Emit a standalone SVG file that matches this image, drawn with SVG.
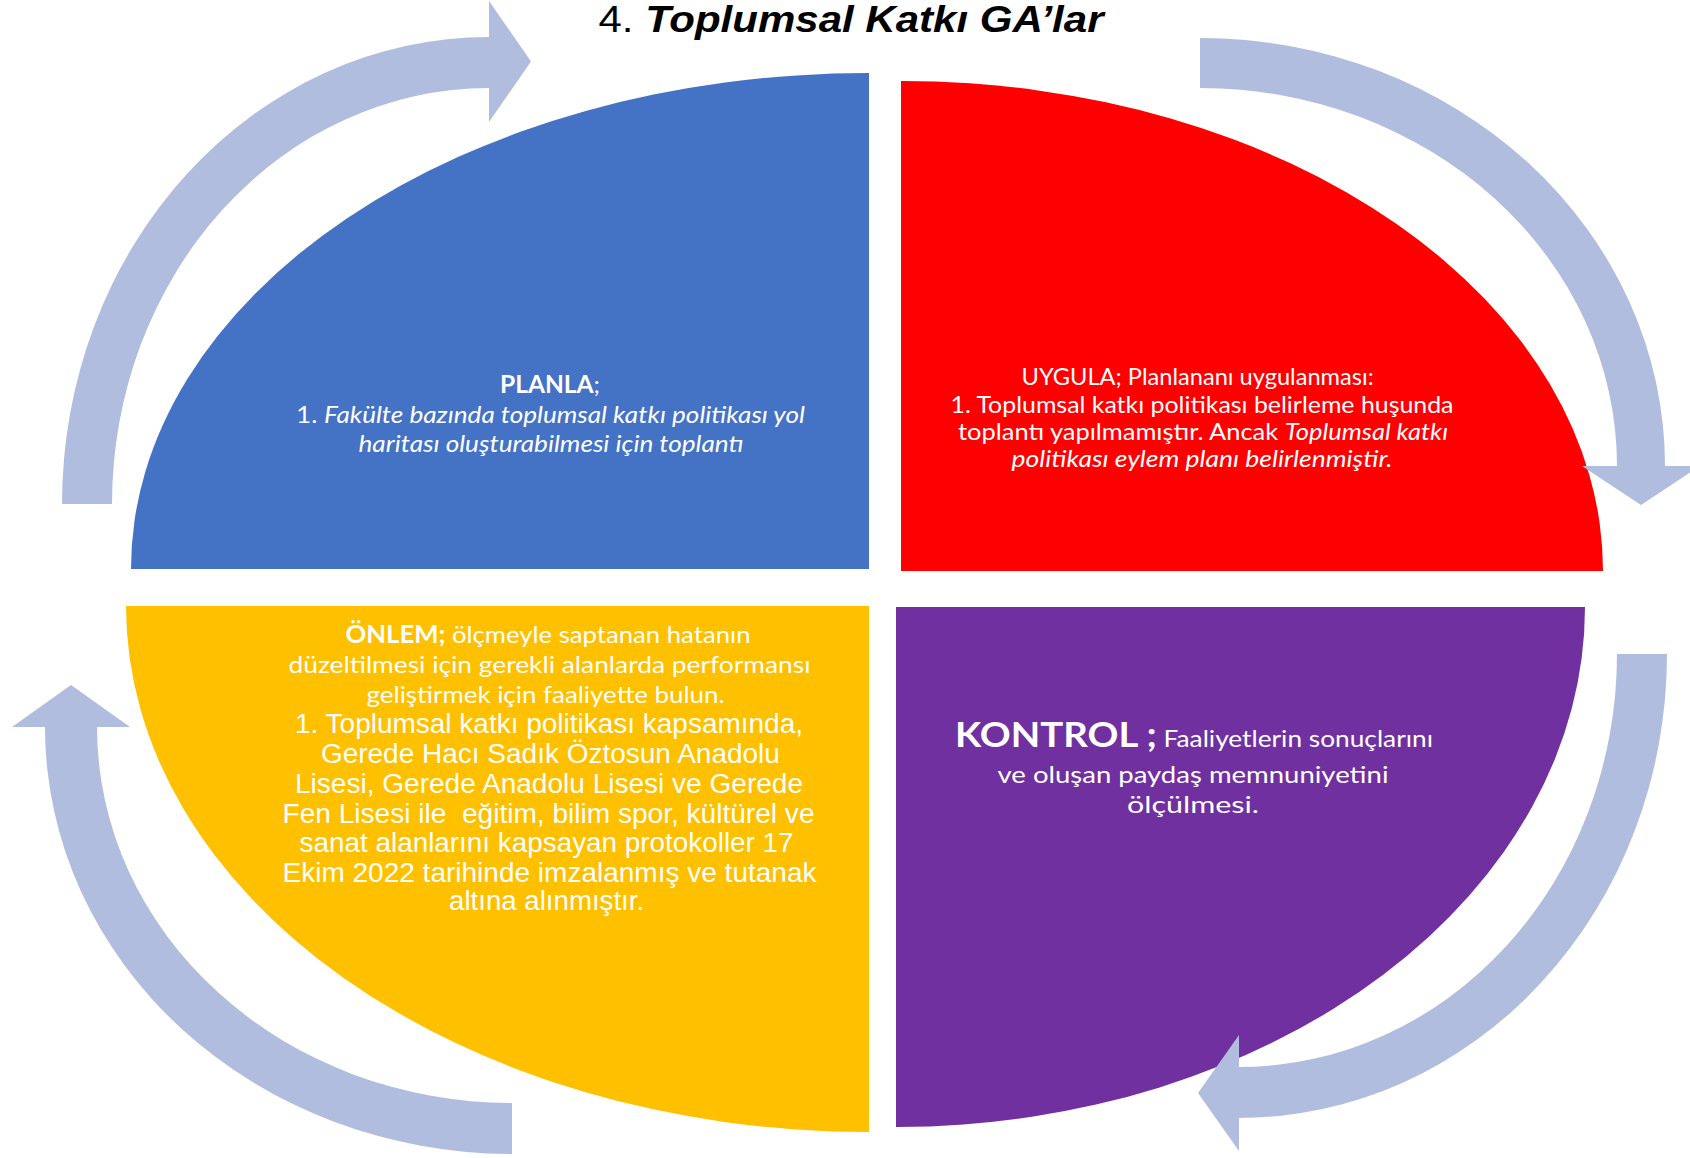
<svg xmlns="http://www.w3.org/2000/svg" width="1690" height="1158" viewBox="0 0 1690 1158">
<style>
.t{font-family:Lato,'Open Sans','Noto Sans',sans-serif;fill:#fff;font-size:24px}
.k{font-family:Lato,'Open Sans','Noto Sans',sans-serif;fill:#fff;font-size:24px}
.kb{font-size:35px;font-weight:bold}
.a{font-family:'Liberation Sans',Arial,sans-serif;fill:#fff;font-size:27px}
.b{font-weight:bold}
.i{font-style:italic}
.arrow{fill:#B0BDDE}
</style>
<rect width="1690" height="1158" fill="#fff"/>
<g id="title">
<text x="851" y="32" font-family="'Liberation Sans',Arial,sans-serif" font-size="37" fill="#000" text-anchor="middle" textLength="505" lengthAdjust="spacingAndGlyphs">4. <tspan font-weight="bold" font-style="italic">Toplumsal Katkı GA’lar</tspan></text>
</g>
<g id="planla">
<path d="M869,569 L131,569 A738,496 0 0 1 869,73 Z" fill="#4472C4"/>
<text class="t" x="550" y="393" text-anchor="middle" textLength="100" lengthAdjust="spacingAndGlyphs"><tspan class="b">PLANLA</tspan>;</text>
<text class="t" x="550.5" y="423" text-anchor="middle" textLength="509" lengthAdjust="spacingAndGlyphs">1. <tspan class="i">Fakülte bazında toplumsal katkı politikası yol</tspan></text>
<text class="t i" x="551" y="452" text-anchor="middle" textLength="385" lengthAdjust="spacingAndGlyphs">haritası oluşturabilmesi için toplantı</text>
</g>
<g id="uygula">
<path d="M901,571 L901,81 A702,490 0 0 1 1603,571 Z" fill="#FF0000"/>
<text class="t" x="1197.6" y="385" text-anchor="middle" textLength="352" lengthAdjust="spacingAndGlyphs">UYGULA; Planlananı uygulanması:</text>
<text class="t" x="1202" y="413" text-anchor="middle" textLength="503" lengthAdjust="spacingAndGlyphs">1. Toplumsal katkı politikası belirleme huşunda</text>
<text class="t" x="1203" y="440" text-anchor="middle" textLength="490" lengthAdjust="spacingAndGlyphs">toplantı yapılmamıştır. Ancak <tspan class="i">Toplumsal katkı</tspan></text>
<text class="t i" x="1202" y="467" text-anchor="middle" textLength="381" lengthAdjust="spacingAndGlyphs">politikası eylem planı belirlenmiştir.</text>
</g>
<g id="onlem">
<path d="M869,606 L869,1132 A743,526 0 0 1 126,606 Z" fill="#FFC000"/>
<text class="t" x="548" y="643" text-anchor="middle" textLength="405" lengthAdjust="spacingAndGlyphs"><tspan class="b">ÖNLEM;</tspan> ölçmeyle saptanan hatanın</text>
<text class="t" x="549.5" y="673" text-anchor="middle" textLength="522" lengthAdjust="spacingAndGlyphs">düzeltilmesi için gerekli alanlarda performansı</text>
<text class="t" x="545.6" y="703" text-anchor="middle" textLength="358" lengthAdjust="spacingAndGlyphs">geliştirmek için faaliyette bulun.</text>
<text class="a" x="549" y="733" text-anchor="middle" textLength="508" lengthAdjust="spacingAndGlyphs">1. Toplumsal katkı politikası kapsamında,</text>
<text class="a" x="550.4" y="763" text-anchor="middle" textLength="459" lengthAdjust="spacingAndGlyphs">Gerede Hacı Sadık Öztosun Anadolu</text>
<text class="a" x="549" y="793" text-anchor="middle" textLength="508" lengthAdjust="spacingAndGlyphs">Lisesi, Gerede Anadolu Lisesi ve Gerede</text>
<text class="a" x="548.5" y="823" text-anchor="middle" textLength="532" lengthAdjust="spacingAndGlyphs" style="white-space:pre">Fen Lisesi ile  eğitim, bilim spor, kültürel ve</text>
<text class="a" x="546.6" y="852" text-anchor="middle" textLength="494" lengthAdjust="spacingAndGlyphs">sanat alanlarını kapsayan protokoller 17</text>
<text class="a" x="549.5" y="882" text-anchor="middle" textLength="534" lengthAdjust="spacingAndGlyphs">Ekim 2022 tarihinde imzalanmış ve tutanak</text>
<text class="a" x="546.6" y="910" text-anchor="middle" textLength="195" lengthAdjust="spacingAndGlyphs">altına alınmıştır.</text>
</g>
<g id="kontrol">
<path d="M896,607 L1585,607 A689,520 0 0 1 896,1127 Z" fill="#7030A0"/>
<text class="k" x="955" y="747" textLength="478" lengthAdjust="spacingAndGlyphs"><tspan class="kb">KONTROL ;</tspan> Faaliyetlerin sonuçlarını</text>
<text class="k" x="1193" y="783" text-anchor="middle" textLength="391" lengthAdjust="spacingAndGlyphs">ve oluşan paydaş memnuniyetini</text>
<text class="k" x="1193" y="813" text-anchor="middle" textLength="132" lengthAdjust="spacingAndGlyphs">ölçülmesi.</text>
</g>
<g id="connectors">
<path class="arrow" d="M62,504 A427,467 0 0 1 489,37 L489,1 L531,61.5 L489,122 L489,88 A377,416 0 0 0 112,504 Z"/>
<path class="arrow" d="M1200,38 A465,428 0 0 1 1665,466 L1700,466 L1641,505 L1582,466 L1617,466 A417,378 0 0 0 1200,88 Z"/>
<path class="arrow" d="M1667,654 A428,464 0 0 1 1239,1118 L1239,1151 L1198,1093 L1239,1035 L1239,1067 A378,413 0 0 0 1617,654 Z"/>
<path class="arrow" d="M512,1154 A467,427 0 0 1 45,727 L12,727 L71,685 L130,727 L97,727 A415,376 0 0 0 512,1103 Z"/>
</g>
</svg>
